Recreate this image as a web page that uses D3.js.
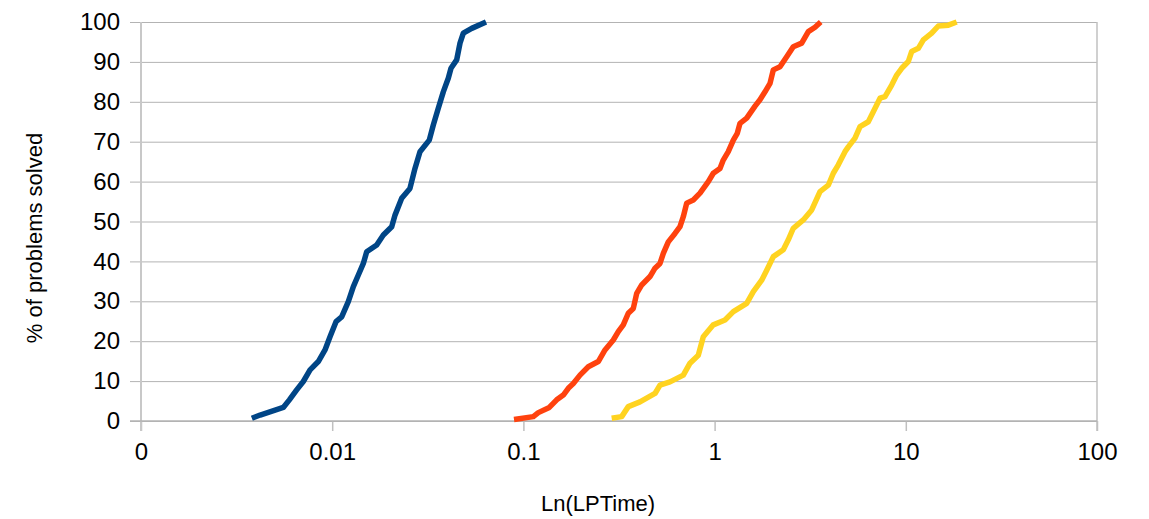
<!DOCTYPE html>
<html>
<head>
<meta charset="utf-8">
<script src="https://cdn.jsdelivr.net/npm/d3@7"></script>
<style>
  body { margin: 0; background: #fff; }
  text { font-family: "Liberation Sans", Arial, sans-serif; fill: #000; }
</style>
</head>
<body>
<div id="chart"></div>
<script>
// values (LP time in seconds, % of problems solved)
var blueTime = [0.0038, 0.0042, 0.00555, 0.00597, 0.00652, 0.00706, 0.00766, 0.00846, 0.00917, 0.00974,
    0.01047, 0.01121, 0.01214, 0.0129, 0.0137, 0.01455, 0.01515, 0.01709, 0.01851, 0.02048,
    0.02131, 0.02309, 0.02551, 0.0271, 0.02878, 0.03219, 0.03379, 0.03588, 0.03811, 0.04047,
    0.04181, 0.04478, 0.04661, 0.04851, 0.05365, 0.06375];
var bluePct = [0.7, 1.5, 3.4, 5.3, 7.8, 9.9, 12.8, 14.9, 17.8, 21.1,
    24.9, 26.1, 29.9, 33.7, 36.6, 39.5, 42.4, 44.1, 46.6, 48.7,
    51.6, 55.8, 58.3, 63.3, 67.5, 70.4, 74.2, 78.4, 82.5, 85.9,
    88.4, 90.5, 94.7, 97.2, 98.4, 100];

var redTime = [0.0893, 0.1127, 0.1197, 0.1366, 0.1493, 0.1617, 0.1717, 0.1824, 0.1977, 0.2185,
    0.2464, 0.2672, 0.2953, 0.3135, 0.333, 0.3536, 0.3756, 0.3914, 0.4156, 0.4594,
    0.4879, 0.5181, 0.5392, 0.5726, 0.6207, 0.6592, 0.686, 0.7146, 0.7738, 0.8386,
    0.9269, 0.9844, 1.067, 1.11, 1.179, 1.253, 1.314, 1.358, 1.472, 1.627,
    1.727, 1.835, 1.949, 2.028, 2.198, 2.383, 2.579, 2.854, 3.091, 3.351, 3.589];
var redPct = [0.4, 1.1, 2.1, 3.4, 5.3, 6.5, 8.2, 9.4, 11.5, 13.6,
    14.9, 17.8, 20.3, 22.4, 24.1, 27.0, 28.2, 32.0, 34.1, 36.2,
    38.3, 39.5, 42.0, 44.9, 47.0, 48.7, 51.2, 54.6, 55.4, 57.1,
    60.0, 62.1, 63.3, 65.4, 67.5, 70.4, 72.1, 74.6, 75.9, 78.9,
    80.5, 82.5, 84.6, 88.0, 88.8, 91.3, 93.8, 94.7, 97.6, 98.7, 100];

var yellowTime = [0.2895, 0.3266, 0.3536, 0.4072, 0.4879, 0.5181, 0.5844, 0.686, 0.7437, 0.8218,
    0.8727, 0.9844, 1.133, 1.253, 1.472, 1.594, 1.763, 1.873, 2.028, 2.287,
    2.429, 2.579, 2.91, 3.22, 3.559, 3.933, 4.176, 4.436, 4.808, 5.003,
    5.424, 5.762, 6.367, 6.761, 7.331, 7.784, 8.437, 8.964, 9.519, 10.31,
    10.73, 11.63, 12.35, 13.66, 14.79, 16.69, 18.46];
var yellowPct = [0.7, 1.1, 3.6, 4.8, 6.9, 9.0, 9.8, 11.5, 14.5, 16.5,
    21.1, 24.1, 25.3, 27.4, 29.5, 32.4, 35.3, 37.8, 41.2, 42.9,
    45.4, 48.3, 50.4, 52.9, 57.5, 59.1, 62.1, 64.2, 67.5, 68.7,
    70.9, 73.8, 75.0, 77.5, 80.9, 81.3, 84.2, 86.7, 88.4, 90.1,
    92.6, 93.4, 95.5, 97.2, 99.0, 99.2, 100];

var xTicks = [0.001, 0.01, 0.1, 1, 10, 100];
var xTickLabels = ["0", "0.01", "0.1", "1", "10", "100"];
var yTicks = [0, 10, 20, 30, 40, 50, 60, 70, 80, 90, 100];

var seriesColors = ["#004586", "#ff420e", "#ffd320"];

// SVG drawing area
var margin = {top: 22, right: 52, bottom: 98, left: 141};
var width = 1149 - margin.left - margin.right,
    height = 519 - margin.top - margin.bottom;

var svg = d3.select("#chart").append("svg")
    .attr("width", width + margin.left + margin.right)
    .attr("height", height + margin.top + margin.bottom);

var g = svg.append("g")
    .attr("transform", "translate(" + margin.left + "," + margin.top + ")");

var x = d3.scaleLog().domain([0.001, 100]).range([0, width]);
var y = d3.scaleLinear().domain([0, 100]).range([height, 0]);

// horizontal grid + y axis ticks (extend 11px left of the plot)
var yAxis = d3.axisLeft(y)
    .tickValues(yTicks)
    .tickSize(11)
    .tickPadding(9)
    .tickFormat(d3.format("d"));

var yg = g.append("g").call(yAxis);
yg.select(".domain").remove();
yg.selectAll(".tick line")
    .attr("x2", width)
    .attr("x1", -11)
    .attr("stroke", "#b3b3b3")
    .attr("stroke-width", 1);
yg.selectAll(".tick text")
    .attr("x", -21)
    .style("font-size", "24px")
    .style("font-family", "Liberation Sans, Arial, sans-serif");

// x axis
var xAxis = d3.axisBottom(x)
    .tickValues(xTicks)
    .tickSize(10)
    .tickPadding(12)
    .tickFormat(function (d, i) { return xTickLabels[i]; });

var xg = g.append("g")
    .attr("transform", "translate(0," + height + ")")
    .call(xAxis);
xg.select(".domain").remove();
xg.selectAll(".tick line").attr("stroke", "#c0c0c0").attr("stroke-width", 1.5);
xg.selectAll(".tick text")
    .style("font-size", "24px")
    .style("font-family", "Liberation Sans, Arial, sans-serif");

// frame: left axis, bottom axis, right wall
g.append("line").attr("x1", 0).attr("x2", 0).attr("y1", 0).attr("y2", height + 10)
    .attr("stroke", "#c8c8c8").attr("stroke-width", 2);
g.append("line").attr("x1", width).attr("x2", width).attr("y1", 0).attr("y2", height + 10)
    .attr("stroke", "#c0c0c0").attr("stroke-width", 1.5);
g.append("line").attr("x1", -11).attr("x2", width).attr("y1", height).attr("y2", height)
    .attr("stroke", "#b3b3b3").attr("stroke-width", 1.5);

// lines
var line = d3.line()
    .x(function (d) { return x(d[0]); })
    .y(function (d) { return y(d[1]); });

var series = [
    d3.zip(blueTime, bluePct),
    d3.zip(redTime, redPct),
    d3.zip(yellowTime, yellowPct)
];

g.selectAll(".series")
    .data(series)
    .enter().append("path")
    .attr("class", "series")
    .attr("d", line)
    .attr("fill", "none")
    .attr("stroke", function (d, i) { return seriesColors[i]; })
    .attr("stroke-width", 5.5)
    .attr("stroke-linejoin", "round");

// axis titles
svg.append("text")
    .attr("x", 598)
    .attr("y", 511)
    .attr("text-anchor", "middle")
    .style("font-size", "22px")
    .text("Ln(LPTime)");

svg.append("text")
    .attr("transform", "translate(42,238) rotate(-90)")
    .attr("text-anchor", "middle")
    .style("font-size", "22px")
    .text("% of problems solved");
</script>
</body>
</html>
